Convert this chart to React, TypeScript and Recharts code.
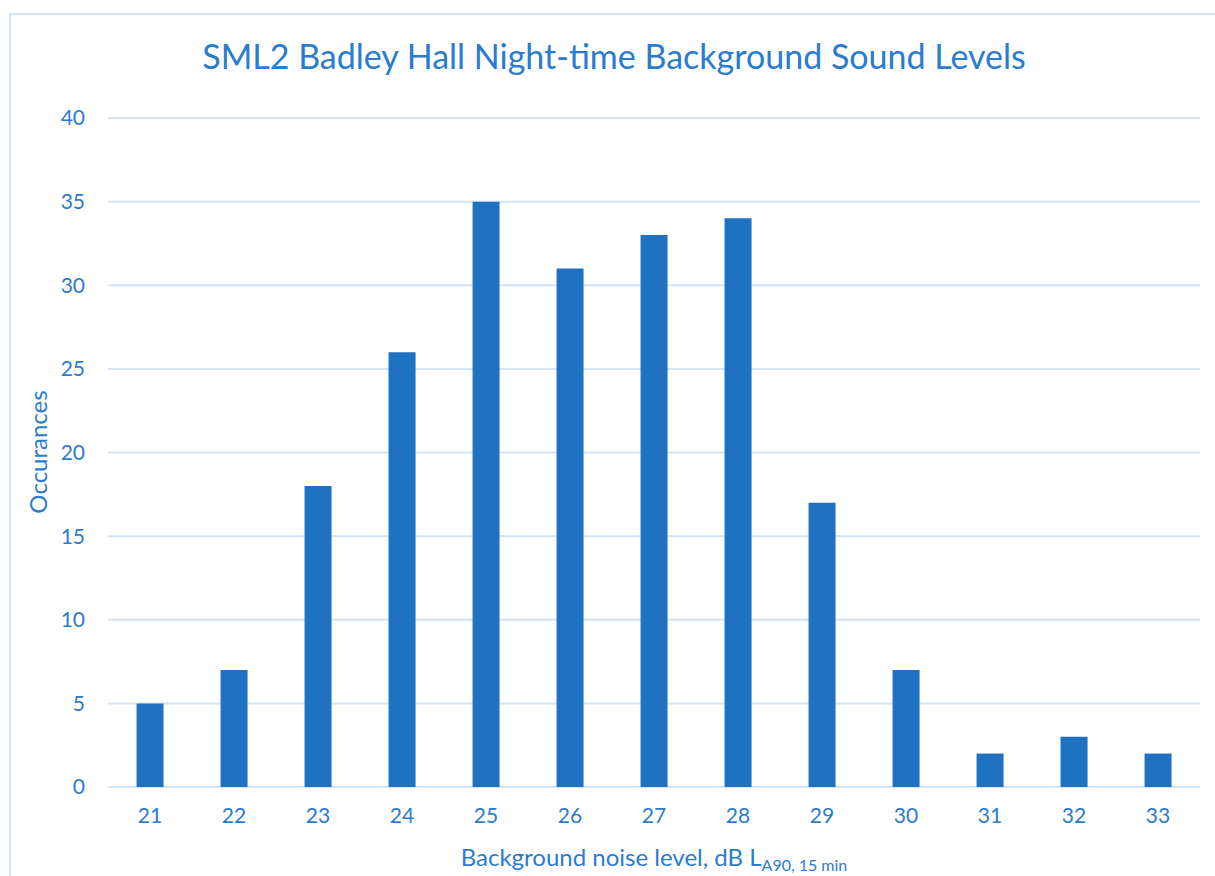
import React from 'react';
import { BarChart, Bar, XAxis, YAxis, CartesianGrid } from 'recharts';

const levels = ['21', '22', '23', '24', '25', '26', '27', '28', '29', '30', '31', '32', '33'];
const occurances = [5, 7, 18, 26, 35, 31, 33, 34, 17, 7, 2, 3, 2];
const yTicks = [0, 5, 10, 15, 20, 25, 30, 35, 40];

const data = levels.map((level, i) => ({ level, count: occurances[i] }));

const TEXT = '#2B7BCE';
const BAR = '#1F71C1';
const GRID = '#D3E4F5';
const FONT = 'Lato, "Open Sans", sans-serif';

const XLabel = (props: any) => {
  const { viewBox } = props;
  const cx = viewBox.x + viewBox.width / 2;
  return (
    <text x={cx} y={866} textAnchor="middle" fill={TEXT} fontSize={24} fontFamily={FONT}>
      Background noise level, dB L
      <tspan fontSize={16} dy={5}>A90, 15 min</tspan>
    </text>
  );
};

const YLabel = () => (
  <text
    x={37}
    y={452}
    transform="rotate(-90, 37, 452)"
    textAnchor="middle"
    dominantBaseline="central"
    fill={TEXT}
    fontSize={24}
    fontFamily={FONT}
  >
    Occurances
  </text>
);

const App: React.FC = () => {
  return (
    <div style={{ position: 'fixed', left: 0, top: 0, width: 1215, height: 876, overflow: 'hidden', background: '#fff' }}>
      <div
        style={{
          position: 'absolute',
          left: 9,
          top: 13,
          width: 1210,
          height: 900,
          border: `2px solid ${GRID}`,
          pointerEvents: 'none',
        }}
      />
      <div
        style={{
          position: 'absolute',
          left: 9,
          width: 1210,
          top: 34,
          textAlign: 'center',
          color: TEXT,
          fontFamily: FONT,
          fontSize: 34,
          lineHeight: '44px',
        }}
      >
        SML2 Badley Hall Night-time Background Sound Levels
      </div>
      <BarChart
        width={1215}
        height={876}
        data={data}
        margin={{ top: 118, right: 15, bottom: 29, left: 48 }}
        barCategoryGap="34%"
        style={{ position: 'absolute', left: 0, top: 0 }}
      >
        <CartesianGrid vertical={false} stroke={GRID} strokeWidth={2} />
        <XAxis
          dataKey="level"
          height={60}
          axisLine={false}
          tickLine={false}
          tickMargin={15}
          tick={{ fill: TEXT, fontSize: 21, fontFamily: FONT }}
          label={<XLabel />}
        />
        <YAxis
          width={60}
          domain={[0, 40]}
          ticks={yTicks}
          axisLine={false}
          tickLine={false}
          tickMargin={17}
          tick={{ fill: TEXT, fontSize: 21, fontFamily: FONT }}
          label={<YLabel />}
        />
        <Bar dataKey="count" fill={BAR} isAnimationActive={false} />
      </BarChart>
    </div>
  );
};

export default App;
